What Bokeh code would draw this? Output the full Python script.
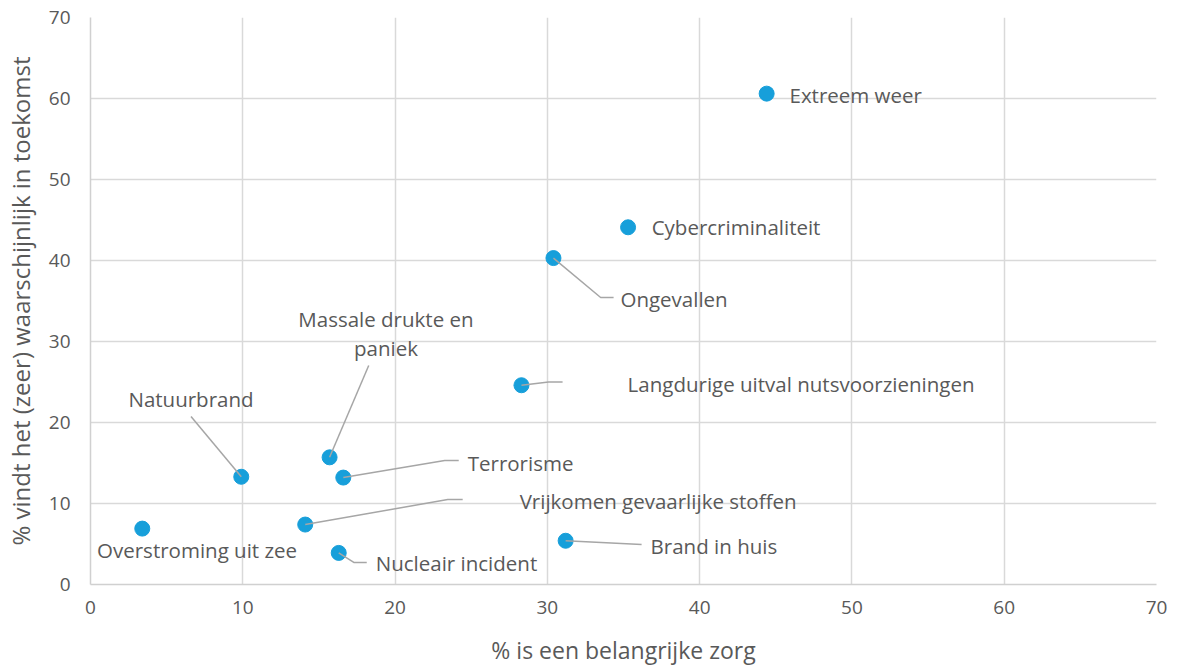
from bokeh.plotting import figure
from bokeh.models import Range1d, FixedTicker, ColumnDataSource
from bokeh.core.properties import value
from bokeh.embed import file_html
from bokeh.resources import INLINE

# ---- data ----
names = ["Extreem weer", "Cybercriminaliteit", "Ongevallen",
         "Langdurige uitval nutsvoorzieningen", "Massale drukte en\npaniek",
         "Natuurbrand", "Terrorisme", "Vrijkomen gevaarlijke stoffen",
         "Overstroming uit zee", "Nucleair incident", "Brand in huis"]
zorg = [44.4, 35.3, 30.4, 28.3, 15.7, 9.9, 16.6, 14.1, 3.4, 16.3, 31.2]
waarschijnlijk = [60.6, 44.1, 40.3, 24.6, 15.7, 13.3, 13.2, 7.4, 6.9, 3.9, 5.4]
ticks = [0, 10, 20, 30, 40, 50, 60, 70]

# ---- label layout (data units) ----
lab_x = [45.9, 36.85, 34.8, 35.27, 19.4, 6.6, 24.77, 28.18, 0.43, 18.73, 36.78]
lab_y = [60.4, 44.1, 35.3, 24.8, 31.0, 22.96, 15.06, 10.37, 4.32, 2.6, 4.8]
lab_align = ["left", "left", "left", "left", "center", "center", "left", "left", "left", "left", "left"]
# leader elbows for each label (None = no leader)
leaders = [None, None,
           [(33.5, 35.43), (34.35, 35.43)],
           [(30.08, 25.0), (31.0, 25.0)],
           [(18.27, 27.04)],
           [(6.6, 20.74)],
           [(23.26, 15.31), (24.18, 15.31)],
           [(23.46, 10.49), (24.44, 10.49)],
           None,
           [(17.29, 2.72), (18.14, 2.72)],
           [(36.19, 4.94)]]

W, H = 1170, 668
p = figure(width=W, height=H, output_backend="svg", toolbar_location=None,
           x_range=Range1d(0, 70), y_range=Range1d(0, 70),
           min_border_left=90, min_border_right=14, min_border_top=17,
           min_border_bottom=H - 584)
p.outline_line_color = None
p.background_fill_color = "white"

for ax in (p.xaxis, p.yaxis):
    ax.ticker = FixedTicker(ticks=ticks)
    ax.major_tick_line_color = None
    ax.minor_tick_line_color = None
    ax.axis_line_color = "#d0d0d0"
    ax.axis_line_width = 1.5
    ax.major_label_text_color = "#595959"
    ax.major_label_text_font = "Open Sans"
    ax.major_label_text_font_size = "19px"
    ax.axis_label_text_color = "#595959"
    ax.axis_label_text_font = "Open Sans"
    ax.axis_label_text_font_style = "normal"

p.xaxis.major_label_standoff = 10
p.yaxis.major_label_standoff = 14
p.xaxis.axis_label = "% is een belangrijke zorg"
p.yaxis.axis_label = "% vindt het (zeer) waarschijnlijk in toekomst"
p.xaxis.axis_label_text_font_size = "23px"
p.yaxis.axis_label_text_font_size = "24px"
p.xaxis.axis_label_standoff = 17
p.yaxis.axis_label_standoff = 9

p.xgrid.ticker = FixedTicker(ticks=ticks)
p.ygrid.ticker = FixedTicker(ticks=ticks)
p.xgrid.grid_line_color = "#d9d9d9"
p.ygrid.grid_line_color = "#d9d9d9"
p.xgrid.grid_line_width = 1.5
p.ygrid.grid_line_width = 1.5

src = ColumnDataSource(dict(x=zorg, y=waarschijnlijk))
p.scatter("x", "y", source=src, size=15, fill_color="#179fda", line_color="#179fda")

xs, ys = [], []
for i, ld in enumerate(leaders):
    if ld is None:
        continue
    xs.append([zorg[i]] + [q[0] for q in ld])
    ys.append([waarschijnlijk[i]] + [q[1] for q in ld])
p.multi_line(xs, ys, line_color="#a6a6a6", line_width=1.5)

lsrc = ColumnDataSource(dict(x=lab_x, y=lab_y, t=names, a=lab_align))
p.text("x", "y", text="t", source=lsrc, text_align="a", text_baseline="middle",
       text_font=value("Open Sans"), text_font_size="20.5px", text_color="#595959",
       text_line_height=1.05)

open("out.html", "w").write(file_html(p, INLINE))
